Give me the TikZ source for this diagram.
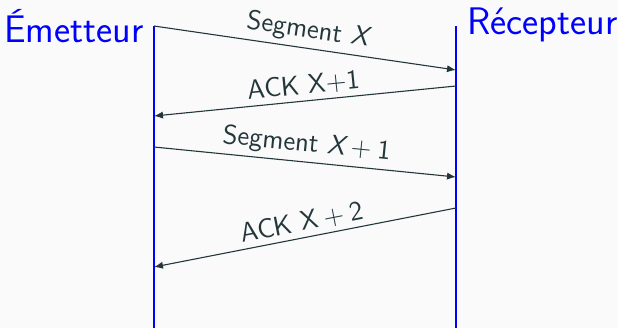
\documentclass[tikz,border=0pt]{standalone}
\usepackage{fontspec}
\usetikzlibrary{arrows.meta}
\definecolor{bgcol}{HTML}{FAFAFA}
\definecolor{msgcol}{HTML}{23373B}
\definecolor{lifecol}{RGB}{0,0,255}
\renewcommand{\familydefault}{\sfdefault}
\newcommand{\mvar}[1]{{\slshape #1}}
\newcommand{\pluss}{\hspace{.22em}+\hspace{.22em}}
\begin{document}
\begin{tikzpicture}[x=0.5pt,y=-0.5pt,
  actor/.style={text=lifecol,inner sep=0pt,font=\sffamily\fontsize{19.2}{22}\selectfont},
  lifeline/.style={draw=lifecol,line width=1.25pt},
  msg/.style={draw=msgcol,line width=0.55pt,-{Latex[length=4.5pt,width=3.6pt]}},
  msglabel/.style={text=msgcol,sloped,above,midway,inner sep=2.2pt,font=\sffamily\fontsize{13.6}{15}\selectfont}]
  \fill[bgcol] (0,0) rectangle (618,328);
  \useasboundingbox (0,0) rectangle (618,328);

  % actors
  \node[actor,anchor=base east] (em) at (144,42) {Émetteur};
  \node[actor,anchor=base west] (rc) at (467,34) {Récepteur};

  % lifelines
  \coordinate (e0) at (154,26);
  \coordinate (e1) at (154,328);
  \coordinate (r0) at (456,26);
  \coordinate (r1) at (456,328);
  \draw[lifeline] (e0) -- (e1);
  \draw[lifeline] (r0) -- (r1);

  % message points
  \coordinate (s1) at (154,26);
  \coordinate (t1) at (456,70);
  \coordinate (s2) at (456,86);
  \coordinate (t2) at (154,116);
  \coordinate (s3) at (154,147);
  \coordinate (t3) at (456,177);
  \coordinate (s4) at (456,208);
  \coordinate (t4) at (154,267);

  \draw[msg] (s1) -- node[msglabel] {Segment \mvar{X}} (t1);
  \draw[msg] (s2) -- node[msglabel] {ACK X+1} (t2);
  \draw[msg] (s3) -- node[msglabel] {Segment \mvar{X}\pluss1} (t3);
  \draw[msg] (s4) -- node[msglabel] {ACK X\pluss2} (t4);
\end{tikzpicture}
\end{document}
